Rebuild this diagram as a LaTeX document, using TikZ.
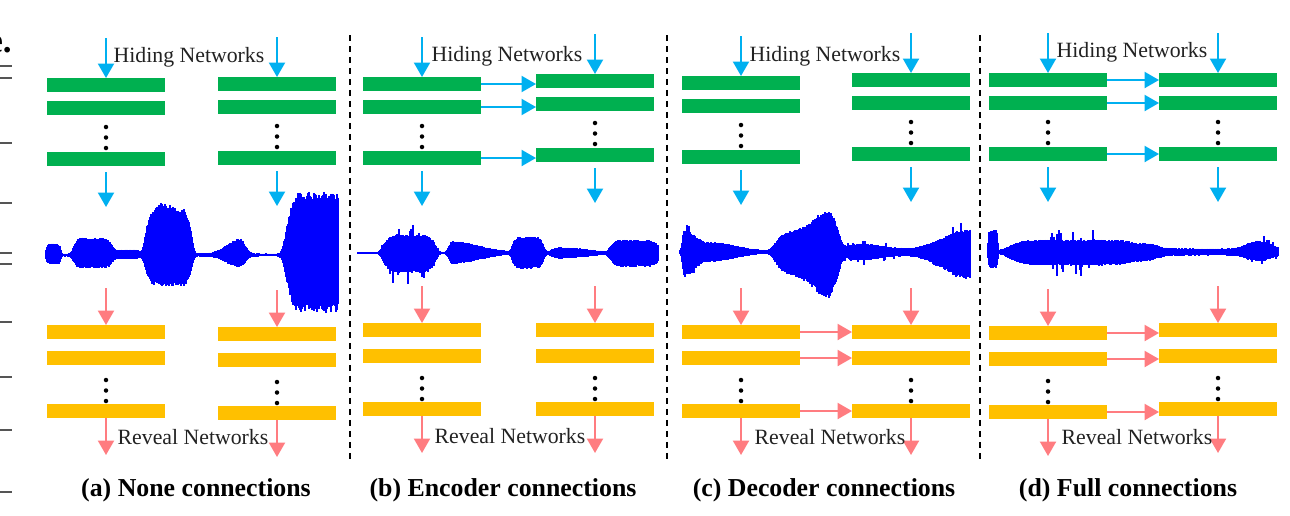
\documentclass[tikz,border=0pt]{standalone}
\usepackage{fontspec}
\setmainfont{Liberation Serif}
\usetikzlibrary{arrows.meta,calc}
\definecolor{ggreen}{HTML}{00B050}
\definecolor{gcyan}{HTML}{00B0F0}
\definecolor{gyel}{HTML}{FFC000}
\definecolor{gred}{HTML}{FF7C80}
\definecolor{gwave}{HTML}{0000FF}
\definecolor{gtext}{HTML}{222222}
\definecolor{gtick}{HTML}{555555}
\tikzset{
  gbar/.style={fill=ggreen,minimum width=2.36cm,minimum height=0.28cm,inner sep=0pt,outer sep=0pt},
  ybar/.style={fill=gyel,minimum width=2.36cm,minimum height=0.28cm,inner sep=0pt,outer sep=0pt},
  dotn/.style={circle,fill=black,inner sep=0pt,minimum size=0.09cm},
  carr/.style={draw=gcyan,line width=0.045cm,-{Triangle[width=0.32cm,length=0.29cm]}},
  rarr/.style={draw=gred,line width=0.045cm,-{Triangle[width=0.32cm,length=0.29cm]}},
  wave/.style={draw=gwave,line width=0.032cm},
  lbl/.style={text=gtext,font=\fontsize{12.4}{14}\selectfont,inner sep=0pt},
  captext/.style={text=black,font=\fontsize{14.7}{17}\selectfont\bfseries,inner sep=0pt},
  sepline/.style={draw=black,line width=0.03cm,dash pattern=on 0.12cm off 0.1cm},
  tickline/.style={draw=gtick,line width=0.04cm},
  declare function={
    gb(\za,\zc,\zl,\zr)=exp(-min(abs((\za-\zc)/(\zl*(\za<\zc)+\zr*(1-(\za<\zc)))),3)^2);
    fb(\za,\zc,\zl,\zr)=exp(-min(abs((\za-\zc)/(\zl*(\za<\zc)+\zr*(1-(\za<\zc)))),1.3)^8);
    wAt(\t)=1.5+10*fb(\t,54,8,7)+16*fb(\t,93,20,20)+4*fb(\t,128,15,12)+46*fb(\t,170,25,22)+5*gb(\t,163,8,8)+15*gb(\t,240,18,7)+62*fb(\t,318,32,30);
    wAb(\t)=1.5+8*fb(\t,54,8,7)+12*fb(\t,93,20,20)+3*fb(\t,128,15,12)+30*fb(\t,170,25,22)+11*gb(\t,240,18,7)+56*fb(\t,318,32,30);
    wAs(\t)=0*\t;
    wBt(\t)=1+17*fb(\t,410,27,26)+11*gb(\t,452,4,38)+15*fb(\t,528,16,16)+5*gb(\t,560,10,35)+12*fb(\t,634,24,26);
    wBb(\t)=1+19*fb(\t,410,27,26)+10*gb(\t,452,4,38)+15*fb(\t,528,16,16)+5*gb(\t,560,10,35)+13*fb(\t,634,24,26);
    wBs(\t)=12*fb(\t,410,27,26);
    wCt(\t)=1.5+22*gb(\t,684,2,16)+8*gb(\t,715,15,30)+20*fb(\t,815,40,25)+20*gb(\t,828,20,10)+7*gb(\t,860,20,35)+22*gb(\t,970,38,5);
    wCb(\t)=1.5+24*gb(\t,684,2,16)+8*gb(\t,715,15,30)+22*fb(\t,815,40,25)+22*gb(\t,828,20,10)+7*gb(\t,860,20,35)+26*gb(\t,970,38,5);
    wCs(\t)=6*gb(\t,870,25,25)+10*gb(\t,960,25,10)+8*gb(\t,690,6,6);
    wDt(\t)=1.5+22*fb(\t,993,5,5)+11*fb(\t,1075,67,68)+6*gb(\t,1150,10,18)+2*fb(\t,1210,40,40)+10*gb(\t,1258,15,20);
    wDb(\t)=1.5+15*fb(\t,993,5,5)+12*fb(\t,1075,67,68)+6*gb(\t,1150,10,18)+2*fb(\t,1210,40,40)+8*gb(\t,1258,15,20);
    wDs(\t)=14*fb(\t,1075,25,25)+6*gb(\t,1265,15,15);
  }
}
% one column: #1 prefix, #2 x centre, #3 top of green group, #4 top of yellow group
\newcommand\netcol[4]{%
  \node[gbar,anchor=north] (#1g1) at (#2,#3) {};
  \node[gbar,anchor=north] (#1g2) at (#2,#3+23) {};
  \node[gbar,anchor=north] (#1g3) at (#2,#3+74) {};
  \node[dotn] (#1gd1) at (#2,#3+49) {};
  \node[dotn] (#1gd2) at (#2,#3+59.5) {};
  \node[dotn] (#1gd3) at (#2,#3+70) {};
  \coordinate (#1gin) at (#2,#3-40);
  \draw[carr] (#1gin) -- (#1g1.north);
  \coordinate (#1go1) at (#2,#3+94);
  \coordinate (#1go2) at (#2,#3+129);
  \draw[carr] (#1go1) -- (#1go2);
  \node[ybar,anchor=north] (#1y1) at (#2,#4) {};
  \node[ybar,anchor=north] (#1y2) at (#2,#4+26) {};
  \node[ybar,anchor=north] (#1y3) at (#2,#4+79) {};
  \node[dotn] (#1yd1) at (#2,#4+55) {};
  \node[dotn] (#1yd2) at (#2,#4+65.5) {};
  \node[dotn] (#1yd3) at (#2,#4+76) {};
  \coordinate (#1yin) at (#2,#4-37);
  \draw[rarr] (#1yin) -- (#1y1.north);
  \coordinate (#1yout) at (#2,#4+130);
  \draw[rarr] (#1y3.south) -- (#1yout);
}
\newcommand\hlink[3]{\draw[#3] (#1.east) -- (#1.east -| #2.west);}
% waveform: #1 x0, #2 x1, #3 centre y, #4 top fn, #5 bottom fn, #6 spike fn
\newcommand\wavedraw[6]{%
  \foreach \wx in {#1,...,#2}{%
    \pgfmathsetmacro\wt{#4(\wx)*(0.86+0.14*rnd)+(rnd>0.85)*#6(\wx)*rnd}%
    \pgfmathsetmacro\wb{#5(\wx)*(0.86+0.14*rnd)+(rnd>0.85)*#6(\wx)*rnd}%
    \draw[wave] (\wx,#3-\wt) -- (\wx,#3+\wb);
  }%
}
\begin{document}
\begin{tikzpicture}[x=0.02cm,y=-0.02cm]
\useasboundingbox (0,0) rectangle (1290,515);
\fill[white] (0,0) rectangle (1290,515);
\pgfmathsetseed{7}
% left edge remnants
\foreach \ty in {66,78,143,203,253,264,322,377,430,492} \draw[tickline] (0,\ty) -- (12,\ty);
\node[anchor=base east,font=\fontsize{20}{20}\selectfont\bfseries,inner sep=0pt] (emark) at (12,52) {e.};
% separators
\coordinate (s1t) at (350,35); \coordinate (s1b) at (350,460); \draw[sepline] (s1t) -- (s1b);
\coordinate (s2t) at (667,35); \coordinate (s2b) at (667,460); \draw[sepline] (s2t) -- (s2b);
\coordinate (s3t) at (980,35); \coordinate (s3b) at (980,460); \draw[sepline] (s3t) -- (s3b);
% waveforms
\wavedraw{46}{338}{255}{wAt}{wAb}{wAs}
\wavedraw{358}{658}{253}{wBt}{wBb}{wBs}
\wavedraw{680}{970}{252}{wCt}{wCb}{wCs}
\wavedraw{988}{1278}{252}{wDt}{wDb}{wDs}
% columns
\netcol{aL}{106}{78}{325}
\netcol{aR}{277}{77}{327}
\netcol{bL}{422}{77}{323}
\netcol{bR}{595}{74}{323}
\netcol{cL}{741}{76}{325}
\netcol{cR}{911}{73}{325}
\netcol{dL}{1048}{73}{326}
\netcol{dR}{1218}{73}{323}
% connections
\hlink{bLg1}{bRg1}{carr}\hlink{bLg2}{bRg2}{carr}\hlink{bLg3}{bRg3}{carr}
\hlink{cLy1}{cRy1}{rarr}\hlink{cLy2}{cRy2}{rarr}\hlink{cLy3}{cRy3}{rarr}
\hlink{dLg1}{dRg1}{carr}\hlink{dLg2}{dRg2}{carr}\hlink{dLg3}{dRg3}{carr}
\hlink{dLy1}{dRy1}{rarr}\hlink{dLy2}{dRy2}{rarr}\hlink{dLy3}{dRy3}{rarr}
% labels
\node[lbl] (hidA) at (189,57) {Hiding Networks};
\node[lbl] (hidB) at (507,56) {Hiding Networks};
\node[lbl] (hidC) at (825,56) {Hiding Networks};
\node[lbl] (hidD) at (1132,52) {Hiding Networks};
\node[lbl] (revA) at (193,437) {Reveal Networks};
\node[lbl] (revB) at (510,436) {Reveal Networks};
\node[lbl] (revC) at (830,437) {Reveal Networks};
\node[lbl] (revD) at (1137,437) {Reveal Networks};
\node[captext] (capA) at (196,490) {(a) None connections};
\node[captext] (capB) at (503,490) {(b) Encoder connections};
\node[captext] (capC) at (824,490) {(c) Decoder connections};
\node[captext] (capD) at (1128,490) {(d) Full connections};
\end{tikzpicture}
\end{document}
